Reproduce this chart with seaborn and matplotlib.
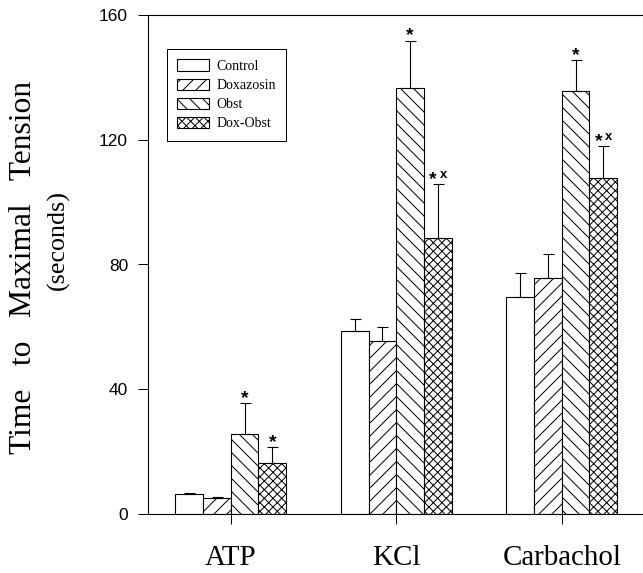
import matplotlib
matplotlib.use("Agg")
import matplotlib.pyplot as plt
import seaborn as sns
import pandas as pd
import numpy as np

# ---- data ----
categories = ["ATP", "KCl", "Carbachol"]
groups = ["Control", "Doxazosin", "Obst", "Dox-Obst"]
control = [6.3, 58.7, 69.7]
doxazosin = [5.0, 55.6, 75.8]
obst = [25.5, 136.5, 135.7]
dox_obst = [16.4, 88.4, 107.8]
control_err = [0.4, 3.8, 7.7]
doxazosin_err = [0.3, 4.4, 7.6]
obst_err = [10.0, 15.3, 9.9]
dox_obst_err = [5.2, 17.3, 10.2]
control_sig = ["", "", ""]
doxazosin_sig = ["", "", ""]
obst_sig = ["*", "*", "*"]
dox_obst_sig = ["*", "*x", "*x"]
y_ticks = [0, 40, 80, 120, 160]

DPI = 78
W, H = 643, 573


def pt(px):
    return px * 72.0 / DPI


plt.rcParams['hatch.linewidth'] = pt(1.0)
plt.rcParams['font.family'] = ['Liberation Serif', 'DejaVu Serif']

values = {"Control": control, "Doxazosin": doxazosin, "Obst": obst, "Dox-Obst": dox_obst}
errs = {"Control": control_err, "Doxazosin": doxazosin_err, "Obst": obst_err, "Dox-Obst": dox_obst_err}
sigs = {"Control": control_sig, "Doxazosin": doxazosin_sig, "Obst": obst_sig, "Dox-Obst": dox_obst_sig}
hatches = {"Control": "", "Doxazosin": "//", "Obst": "\\\\", "Dox-Obst": "xxx"}

rows = []
for g in groups:
    for c, v in zip(categories, values[g]):
        rows.append({"Stimulus": c, "Group": g, "Time": v})
df = pd.DataFrame(rows)

fig = plt.figure(figsize=(643.01 / DPI, 573.01 / DPI), dpi=DPI)
ax = fig.add_axes([148 / W, (H - 514) / H, 496.5 / W, 499 / H])

sns.barplot(data=df, x="Stimulus", y="Time", hue="Group", order=categories,
            hue_order=groups, palette={g: "white" for g in groups}, width=0.67,
            errorbar=None, edgecolor="black", linewidth=pt(1.1), saturation=1,
            ax=ax, legend=False)

for g, cont in zip(groups, ax.containers):
    for b in cont:
        b.set_hatch(hatches[g])
        b.set_facecolor("white")
        b.set_edgecolor("black")

for g, cont in zip(groups, ax.containers):
    xs = [b.get_x() + b.get_width() / 2 for b in cont]
    ys = [b.get_height() for b in cont]
    ax.errorbar(xs, ys, yerr=[np.zeros(len(ys)), errs[g]], fmt='none',
                ecolor='black', elinewidth=pt(1.1), capsize=pt(5.5),
                capthick=pt(1.1), zorder=3)
    for x, y, e, s in zip(xs, ys, errs[g], sigs[g]):
        if not s:
            continue
        top = y + e
        if len(s) == 1:
            ax.annotate(s, (x, top), xytext=(0, 0), textcoords='offset pixels',
                        ha='center', va='baseline', fontsize=pt(19),
                        fontweight='bold', family='Liberation Sans',
                        annotation_clip=False)
        else:
            ax.annotate(s[0], (x, top), xytext=(-5, 0), textcoords='offset pixels',
                        ha='center', va='baseline', fontsize=pt(19),
                        fontweight='bold', family='Liberation Sans',
                        annotation_clip=False)
            ax.annotate(s[1], (x, top), xytext=(5.5, 6.0), textcoords='offset pixels',
                        ha='center', va='baseline', fontsize=pt(13),
                        fontweight='bold', family='Liberation Sans',
                        annotation_clip=False)

ax.set_xlim(-0.5, 2.5)
ax.set_ylim(0, 160)
ax.set_yticks(y_ticks)
ax.set_xlabel("")
ax.set_ylabel("")
ax.tick_params(axis='both', direction='out', length=pt(10), width=pt(1), color='black')
ax.tick_params(axis='y', pad=pt(10), labelsize=pt(17.4))
ax.tick_params(axis='x', pad=pt(21), labelsize=pt(29))
for lab in ax.get_yticklabels():
    lab.set_fontfamily('Liberation Sans')
for lab in ax.get_xticklabels():
    lab.set_fontfamily('Liberation Serif')

for side in ['left', 'bottom', 'top']:
    ax.spines[side].set_linewidth(pt(1.1))
    ax.spines[side].set_color('black')
ax.spines['right'].set_visible(False)

leg = ax.legend(ax.containers, groups, loc='upper left',
                bbox_to_anchor=(19 / 496.5, (514 - 49) / 499), borderaxespad=0,
                frameon=True, fancybox=False, edgecolor='black', framealpha=1,
                prop={'family': 'Liberation Serif', 'size': pt(13.9)},
                handlelength=2.3, handleheight=0.86, handletextpad=0.5,
                borderpad=0.75, labelspacing=0.41)
leg.get_frame().set_linewidth(pt(1.0))

fig.text(23 / W, 1 - 267 / H, "Time   to   Maximal   Tension", rotation=90,
         ha='center', va='center', fontsize=pt(31.5), family='Liberation Serif')
fig.text(58 / W, 1 - 240 / H, "(seconds)", rotation=90,
         ha='center', va='center', fontsize=pt(26), family='Liberation Serif')

fig.savefig("out.png", dpi=DPI)
